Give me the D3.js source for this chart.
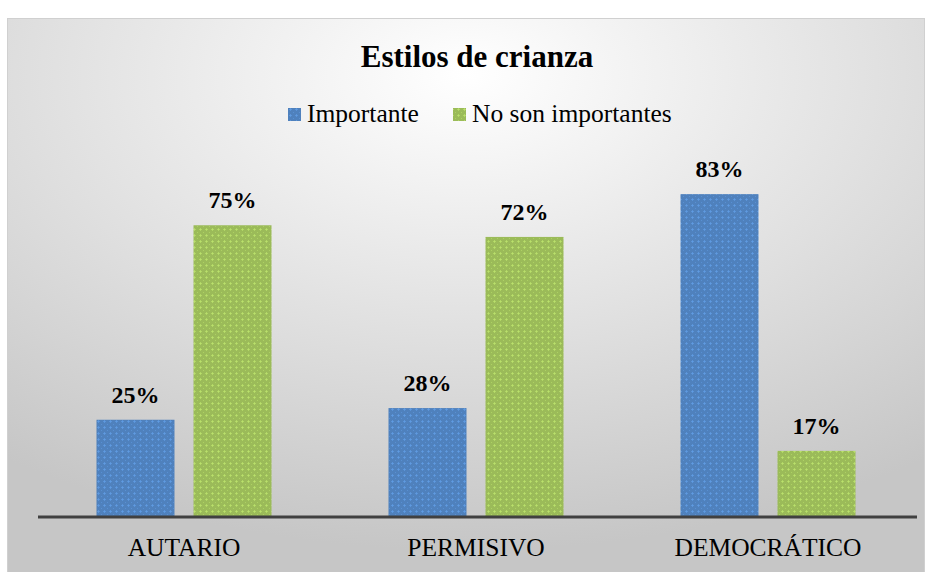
<!DOCTYPE html>
<html><head><meta charset="utf-8">
<script src="https://cdn.jsdelivr.net/npm/d3@7/dist/d3.min.js"></script>
<style>body{margin:0;background:#fff}svg{display:block}</style>
</head><body>
<script>
const categories = ["AUTARIO", "PERMISIVO", "DEMOCRÁTICO"];
const seriesNames = ["Importante", "No son importantes"];
const importante = [0.25, 0.28, 0.83];
const noImportantes = [0.75, 0.72, 0.17];
const seriesColors = ["#4F81BD", "#9BBB59"];

const W = 932, H = 572;
const svg = d3.select("body").append("svg").attr("width", W).attr("height", H);
const defs = svg.append("defs");

const rg = defs.append("radialGradient").attr("id", "bg")
  .attr("cx", "50%").attr("cy", "10%").attr("r", "85%")
  .attr("gradientUnits", "objectBoundingBox");
rg.append("stop").attr("offset", "0%").attr("stop-color", "#ffffff");
rg.append("stop").attr("offset", "100%").attr("stop-color", "#c6c6c6");

seriesColors.forEach((c, i) => {
  const p = defs.append("pattern").attr("id", "pat" + i)
    .attr("width", 6).attr("height", 6).attr("patternUnits", "userSpaceOnUse");
  p.append("rect").attr("width", 6).attr("height", 6).attr("fill", c);
  const light = d3.color(c).brighter(0.6);
  p.append("rect").attr("x", 2).attr("y", 0).attr("width", 1).attr("height", 3).attr("fill", light).attr("opacity", 0.6);
  p.append("rect").attr("x", 1).attr("y", 1).attr("width", 3).attr("height", 1).attr("fill", light).attr("opacity", 0.6);
  p.append("rect").attr("x", 5).attr("y", 4).attr("width", 1).attr("height", 1).attr("fill", light).attr("opacity", 0.5);
});

svg.append("rect").attr("x", 7.5).attr("y", 18.5).attr("width", 917).attr("height", 560)
  .attr("fill", "url(#bg)").attr("stroke", "#d0d0d0");

const font = "'Liberation Serif','Times New Roman',serif";

svg.append("text").attr("x", 477).attr("y", 67).attr("text-anchor", "middle")
  .attr("font-family", font).attr("font-weight", "bold").attr("font-size", 31)
  .attr("fill", "#000").text("Estilos de crianza");

const x0 = d3.scaleBand().domain(categories).range([38, 914]).paddingInner(0).paddingOuter(0);
const x1 = d3.scaleBand().domain(seriesNames).range([0, x0.bandwidth()]).paddingInner(0.196).paddingOuter(0.603);
const y = d3.scaleLinear().domain([0, 1]).range([517, 128]);

const data = categories.map((c, i) => ({cat: c, vals: [importante[i], noImportantes[i]]}));

const g = svg.append("g");
data.forEach(d => {
  d.vals.forEach((v, si) => {
    const bx = x0(d.cat) + x1(seriesNames[si]);
    g.append("rect").attr("x", bx).attr("y", y(v)).attr("width", x1.bandwidth())
      .attr("height", y(0) - y(v)).attr("fill", "url(#pat" + si + ")");
    g.append("text").attr("x", bx + x1.bandwidth() / 2).attr("y", y(v) - 17)
      .attr("text-anchor", "middle").attr("font-family", font).attr("font-weight", "bold")
      .attr("font-size", 24).attr("fill", "#000").text(Math.round(v * 100) + "%");
  });
});

const xAxis = d3.axisBottom(x0).tickSize(0).tickPadding(0);
const ax = svg.append("g").attr("transform", "translate(0,517)").call(xAxis);
ax.select(".domain").remove();
ax.selectAll("text").attr("font-family", font).attr("font-size", 25.5).attr("fill", "#000")
  .attr("y", 39).attr("dy", null);
ax.append("line").attr("x1", x0.range()[0]).attr("x2", x0.range()[1] + 3)
  .attr("stroke", "#404040").attr("stroke-width", 3);

// legend
const legend = svg.append("g");
const legX = [288, 453];
seriesNames.forEach((s, i) => {
  legend.append("rect").attr("x", legX[i]).attr("y", 108).attr("width", 13).attr("height", 13)
    .attr("fill", "url(#pat" + i + ")");
  legend.append("text").attr("x", legX[i] + 19).attr("y", 122).attr("font-family", font)
    .attr("font-size", 25.5).attr("fill", "#000").text(s);
});
</script>
</body></html>
